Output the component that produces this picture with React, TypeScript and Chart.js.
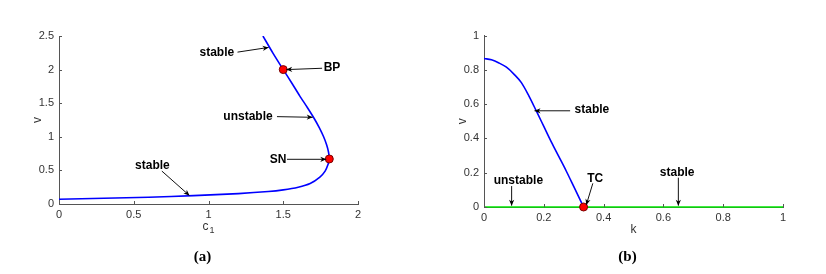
import React, { useEffect, useRef } from "react";
import { Chart, registerables } from "chart.js";

Chart.register(...registerables);

// ---------- Panel (a) data ----------
const A_C1 = [0, 0.3, 0.6, 0.9, 1.2, 1.4, 1.5, 1.6, 1.68, 1.745, 1.78, 1.8, 1.808, 1.803, 1.79, 1.77, 1.74, 1.705, 1.66, 1.61, 1.56, 1.5, 1.43, 1.364];
const A_V = [0.07, 0.085, 0.1, 0.125, 0.155, 0.185, 0.21, 0.25, 0.305, 0.4, 0.49, 0.59, 0.67, 0.77, 0.88, 1.0, 1.14, 1.28, 1.44, 1.61, 1.79, 2.0, 2.25, 2.5];
const A_POINT_C1 = [1.5, 1.808];
const A_POINT_V = [2.0, 0.67];
const A_ANN_TEXT = ["stable", "BP", "unstable", "SN", "stable"];
const A_ANN_TX = [1.056, 1.826, 1.264, 1.465, 0.625];
const A_ANN_TY = [2.25, 2.03, 1.305, 0.66, 0.565];
const A_ARROW_X0 = [1.194, 1.76, 1.458, 1.525, 0.688];
const A_ARROW_Y0 = [2.26, 2.02, 1.3, 0.665, 0.49];
const A_ARROW_X1 = [1.402, 1.52, 1.697, 1.788, 0.873];
const A_ARROW_Y1 = [2.33, 2.0, 1.29, 0.665, 0.125];

// ---------- Panel (b) data ----------
const B_K = [0, 0.025, 0.05, 0.075, 0.1, 0.125, 0.15, 0.175, 0.2, 0.225, 0.25, 0.275, 0.3, 0.333];
const B_V = [0.866, 0.858, 0.84, 0.815, 0.775, 0.725, 0.648, 0.56, 0.47, 0.38, 0.295, 0.21, 0.12, 0];
const B_ZERO_K = [0, 1];
const B_ZERO_V = [0, 0];
const B_POINT_K = [0.333];
const B_POINT_V = [0];
const B_ANN_TEXT = ["stable", "unstable", "TC", "stable"];
const B_ANN_TX = [0.361, 0.115, 0.372, 0.646];
const B_ANN_TY = [0.565, 0.151, 0.167, 0.202];
const B_ARROW_X0 = [0.288, 0.0924, 0.364, 0.65];
const B_ARROW_Y0 = [0.561, 0.122, 0.138, 0.171];
const B_ARROW_X1 = [0.169, 0.0924, 0.342, 0.65];
const B_ARROW_Y1 = [0.561, 0.008, 0.012, 0.008];

const TICK_FONT = { family: "'Liberation Sans', Arial, sans-serif", size: 11 };

function zip(xs: number[], ys: number[]) {
  return xs.map((x, i) => ({ x, y: ys[i] }));
}

function fmt(v: number) {
  return String(Number(Number(v).toFixed(3)));
}

function drawArrow(ctx: CanvasRenderingContext2D, x1: number, y1: number, x2: number, y2: number) {
  ctx.beginPath();
  ctx.moveTo(x1, y1);
  ctx.lineTo(x2, y2);
  ctx.stroke();
  const ang = Math.atan2(y2 - y1, x2 - x1);
  const L = 6, W = 2.6, N = 4.2;
  const c = Math.cos(ang), s = Math.sin(ang);
  ctx.beginPath();
  ctx.moveTo(x2, y2);
  ctx.lineTo(x2 - L * c + W * s, y2 - L * s - W * c);
  ctx.lineTo(x2 - N * c, y2 - N * s);
  ctx.lineTo(x2 - L * c - W * s, y2 - L * s + W * c);
  ctx.closePath();
  ctx.fill();
}

type PanelSpec = {
  datasets: any[];
  xMax: number;
  yMax: number;
  xStep: number;
  yStep: number;
  padTop: number;
  padRight: number;
  yAxisWidth: number;
  xAxisHeight: number;
  ann: { text: string[]; tx: number[]; ty: number[]; x0: number[]; y0: number[]; x1: number[]; y1: number[] };
  xTitle: string;
  xSub: string;
  caption: string;
};

function makeConfig(p: PanelSpec): any {
  const overlay = {
    id: "overlay",
    afterDraw(chart: any) {
      const ctx: CanvasRenderingContext2D = chart.ctx;
      const xs = chart.scales.x;
      const ys = chart.scales.y;
      const area = chart.chartArea;
      ctx.save();
      // inner tick marks
      ctx.strokeStyle = "#555";
      ctx.lineWidth = 1;
      xs.ticks.forEach((t: any) => {
        const px = Math.round(xs.getPixelForValue(t.value)) + 0.5;
        ctx.beginPath();
        ctx.moveTo(px, area.bottom);
        ctx.lineTo(px, area.bottom - 3);
        ctx.stroke();
      });
      ys.ticks.forEach((t: any) => {
        const py = Math.round(ys.getPixelForValue(t.value)) + 0.5;
        ctx.beginPath();
        ctx.moveTo(area.left, py);
        ctx.lineTo(area.left + 3, py);
        ctx.stroke();
      });
      // annotations
      ctx.fillStyle = "#000";
      ctx.strokeStyle = "#111";
      ctx.lineWidth = 1;
      ctx.font = "bold 12px 'Liberation Sans', Arial, sans-serif";
      ctx.textAlign = "center";
      ctx.textBaseline = "middle";
      p.ann.text.forEach((txt, i) => {
        ctx.fillText(txt, xs.getPixelForValue(p.ann.tx[i]), ys.getPixelForValue(p.ann.ty[i]));
        drawArrow(
          ctx,
          xs.getPixelForValue(p.ann.x0[i]),
          ys.getPixelForValue(p.ann.y0[i]),
          xs.getPixelForValue(p.ann.x1[i]),
          ys.getPixelForValue(p.ann.y1[i])
        );
      });
      // axis titles
      ctx.fillStyle = "#333";
      ctx.font = "12px 'Liberation Sans', Arial, sans-serif";
      const midX = (area.left + area.right) / 2;
      const titleY = area.bottom + 23;
      if (p.xSub) {
        const wMain = ctx.measureText(p.xTitle).width;
        ctx.font = "9px 'Liberation Sans', Arial, sans-serif";
        const wSub = ctx.measureText(p.xSub).width;
        const startX = midX - (wMain + wSub + 1) / 2;
        ctx.font = "12px 'Liberation Sans', Arial, sans-serif";
        ctx.textAlign = "left";
        ctx.fillText(p.xTitle, startX, titleY);
        ctx.font = "9px 'Liberation Sans', Arial, sans-serif";
        ctx.fillText(p.xSub, startX + wMain + 1, titleY + 4);
      } else {
        ctx.textAlign = "center";
        ctx.fillText(p.xTitle, midX, titleY);
      }
      ctx.font = "12px 'Liberation Sans', Arial, sans-serif";
      ctx.textAlign = "center";
      ctx.save();
      ctx.translate(area.left - 21, (area.top + area.bottom) / 2);
      ctx.rotate(-Math.PI / 2);
      ctx.fillText("v", 0, 0);
      ctx.restore();
      // caption
      ctx.fillStyle = "#000";
      ctx.font = "bold 15px 'Liberation Serif', 'Times New Roman', serif";
      ctx.textAlign = "center";
      ctx.fillText(p.caption, midX - 6, 257);
      ctx.restore();
    },
  };

  return {
    type: "scatter",
    data: { datasets: p.datasets },
    options: {
      animation: false,
      responsive: false,
      devicePixelRatio: 1,
      layout: { padding: { left: 0, top: p.padTop, right: p.padRight, bottom: 0 } },
      plugins: { legend: { display: false }, tooltip: { enabled: false } },
      scales: {
        x: {
          type: "linear",
          min: 0,
          max: p.xMax,
          grid: { display: false, drawTicks: false, tickLength: 0 },
          border: { display: true, color: "#555", width: 1 },
          ticks: {
            stepSize: p.xStep,
            color: "#333",
            font: TICK_FONT,
            padding: 4,
            maxRotation: 0,
            callback: (v: number) => fmt(v),
          },
          afterFit: (s: any) => {
            s.height = p.xAxisHeight;
          },
        },
        y: {
          type: "linear",
          min: 0,
          max: p.yMax,
          grid: { display: false, drawTicks: false, tickLength: 0 },
          border: { display: true, color: "#555", width: 1 },
          ticks: {
            stepSize: p.yStep,
            color: "#333",
            font: TICK_FONT,
            padding: 5,
            callback: (v: number) => fmt(v),
          },
          afterFit: (s: any) => {
            s.width = p.yAxisWidth;
          },
        },
      },
    },
    plugins: [overlay],
  };
}

const markerStyle = {
  showLine: false,
  pointRadius: 4,
  pointBackgroundColor: "#ff0000",
  pointBorderColor: "#7a0000",
  pointBorderWidth: 1,
  clip: false,
};

const lineStyle = {
  showLine: true,
  pointRadius: 0,
  borderWidth: 1.6,
  tension: 0.25,
};

const panelA: PanelSpec = {
  datasets: [
    { ...markerStyle, data: zip(A_POINT_C1, A_POINT_V) },
    { ...lineStyle, borderColor: "#0000ff", data: zip(A_C1, A_V) },
  ],
  xMax: 2,
  yMax: 2.5,
  xStep: 0.5,
  yStep: 0.5,
  padTop: 36,
  padRight: 55,
  yAxisWidth: 59,
  xAxisHeight: 70,
  ann: { text: A_ANN_TEXT, tx: A_ANN_TX, ty: A_ANN_TY, x0: A_ARROW_X0, y0: A_ARROW_Y0, x1: A_ARROW_X1, y1: A_ARROW_Y1 },
  xTitle: "c",
  xSub: "1",
  caption: "(a)",
};

const panelB: PanelSpec = {
  datasets: [
    { ...markerStyle, data: zip(B_POINT_K, B_POINT_V) },
    { ...lineStyle, cubicInterpolationMode: "monotone", borderColor: "#0000ff", data: zip(B_K, B_V) },
    { ...lineStyle, tension: 0, borderColor: "#00e600", data: zip(B_ZERO_K, B_ZERO_V), clip: false },
  ],
  xMax: 1,
  yMax: 1,
  xStep: 0.2,
  yStep: 0.2,
  padTop: 35.5,
  padRight: 43,
  yAxisWidth: 71,
  xAxisHeight: 67,
  ann: { text: B_ANN_TEXT, tx: B_ANN_TX, ty: B_ANN_TY, x0: B_ARROW_X0, y0: B_ARROW_Y0, x1: B_ARROW_X1, y1: B_ARROW_Y1 },
  xTitle: "k",
  xSub: "",
  caption: "(b)",
};

function Panel({ spec, left }: { spec: PanelSpec; left: number }) {
  const ref = useRef<HTMLCanvasElement | null>(null);
  useEffect(() => {
    if (!ref.current) return;
    const chart = new Chart(ref.current, makeConfig(spec));
    return () => chart.destroy();
  }, [spec]);
  return (
    <canvas
      ref={ref}
      width={413}
      height={274}
      style={{ position: "absolute", left, top: 0, width: 413, height: 274 }}
    />
  );
}

export default function App() {
  return (
    <div style={{ position: "fixed", left: 0, top: 0, width: 826, height: 274, background: "#fff" }}>
      <Panel spec={panelA} left={0} />
      <Panel spec={panelB} left={413} />
    </div>
  );
}
